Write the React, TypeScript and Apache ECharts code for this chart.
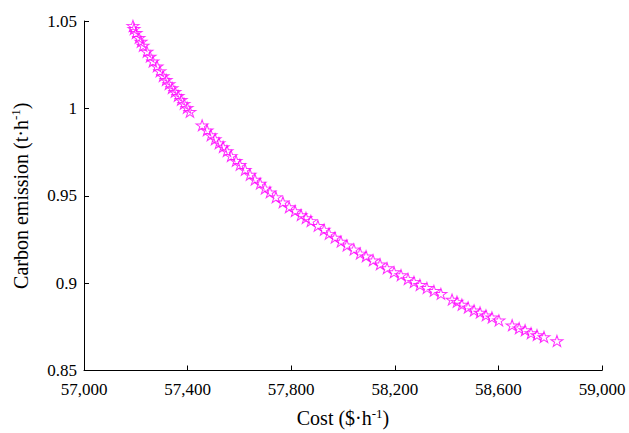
import React, { useEffect, useRef } from "react";
import * as echarts from "echarts";

const costValues: number[] = [
  57189, 57193, 57201, 57212, 57220, 57228, 57243, 57255, 57266, 57282,
  57293, 57305, 57317, 57328, 57340, 57351, 57363, 57375, 57386, 57398,
  57409, 57456, 57475, 57490, 57506, 57521, 57537, 57552, 57568, 57587,
  57602, 57622, 57641, 57660, 57680, 57699, 57718, 57741, 57768, 57792,
  57815, 57838, 57857, 57876, 57903, 57927, 57946, 57969, 57992, 58015,
  58042, 58066, 58089, 58116, 58143, 58170, 58197, 58224, 58251, 58274,
  58297, 58324, 58351, 58378, 58421, 58440, 58459, 58483, 58506, 58529,
  58552, 58575, 58602, 58653, 58680, 58703, 58726, 58749, 58776, 58826,
];

const emissionValues: number[] = [
  1.0472, 1.0455, 1.0432, 1.0404, 1.0382, 1.0359, 1.0325, 1.0297, 1.0269, 1.0241,
  1.0213, 1.0185, 1.0163, 1.014, 1.0117, 1.0095, 1.0072, 1.0049, 1.0027, 1.0004,
  0.9981, 0.9903, 0.9875, 0.9847, 0.9824, 0.9801, 0.9779, 0.9756, 0.9728, 0.97,
  0.9677, 0.9649, 0.9621, 0.9593, 0.957, 0.9542, 0.952, 0.9492, 0.9463, 0.9435,
  0.9413, 0.939, 0.9373, 0.9356, 0.9328, 0.9306, 0.9283, 0.9261, 0.9238, 0.9216,
  0.9193, 0.917, 0.9154, 0.9131, 0.9108, 0.9086, 0.9063, 0.9046, 0.9024, 0.9007,
  0.899, 0.8973, 0.8956, 0.8939, 0.8906, 0.8894, 0.8877, 0.8861, 0.8844, 0.8832,
  0.8816, 0.8804, 0.8787, 0.8759, 0.8742, 0.8731, 0.8714, 0.8703, 0.8692, 0.8669,
];

const xTicks = { min: 57000, max: 59000, interval: 400 };
const yTicks = { min: 0.85, max: 1.05, interval: 0.05 };

const STAR =
  "path://M50 0 L61.17 34.63 L97.55 34.55 L68.07 55.87 L79.39 90.45 L50 69 L20.61 90.45 L31.93 55.87 L2.45 34.55 L38.83 34.63 Z";

const FONT = "'Liberation Serif', 'Times New Roman', serif";

export default function App() {
  const ref = useRef<HTMLDivElement>(null);
  useEffect(() => {
    if (!ref.current) return;
    const chart = echarts.init(ref.current, null, { renderer: "svg" });
    const data = costValues.map((c, i) => [c, emissionValues[i]]);
    const axisCommon = {
      axisLine: { show: true, lineStyle: { color: "#000", width: 1 } },
      axisTick: { show: true, inside: true, length: 5, lineStyle: { color: "#000" } },
      splitLine: { show: false },
    };
    const rich = {
      a: { fontFamily: FONT, fontSize: 20, color: "#000" },
      s: { fontFamily: FONT, fontSize: 13, color: "#000", padding: [0, 0, 10, 0] },
    };
    chart.setOption({
      animation: false,
      backgroundColor: "#fff",
      grid: { left: 84, right: 27, top: 21, bottom: 57 },
      xAxis: {
        type: "value",
        min: xTicks.min,
        max: xTicks.max,
        interval: xTicks.interval,
        ...axisCommon,
        axisLabel: {
          color: "#000",
          fontFamily: FONT,
          fontSize: 17,
          margin: 10,
          formatter: (v: number) => v.toLocaleString("en-US"),
        },
        name: "{a|Cost ($·h}{s|-1}{a|)}",
        nameLocation: "middle",
        nameGap: 36,
        nameTextStyle: { rich },
      },
      yAxis: {
        type: "value",
        min: yTicks.min,
        max: yTicks.max,
        interval: yTicks.interval,
        ...axisCommon,
        axisLabel: {
          color: "#000",
          fontFamily: FONT,
          fontSize: 17,
          margin: 7,
          formatter: (v: number) => String(+v.toFixed(2)),
        },
        name: "{a|Carbon emission (t·h}{s|-1}{a|)}",
        nameLocation: "middle",
        nameGap: 52,
        nameRotate: 90,
        nameTextStyle: { rich },
      },
      series: [
        {
          type: "scatter",
          data,
          symbol: STAR,
          symbolSize: [12, 11],
          itemStyle: { color: "rgba(255,255,255,0)", borderColor: "#ff00ff", borderWidth: 1 },
        },
      ],
    });
    return () => chart.dispose();
  }, []);
  return <div ref={ref} style={{ width: 629, height: 433, position: "absolute", left: 0, top: 0 }} />;
}
